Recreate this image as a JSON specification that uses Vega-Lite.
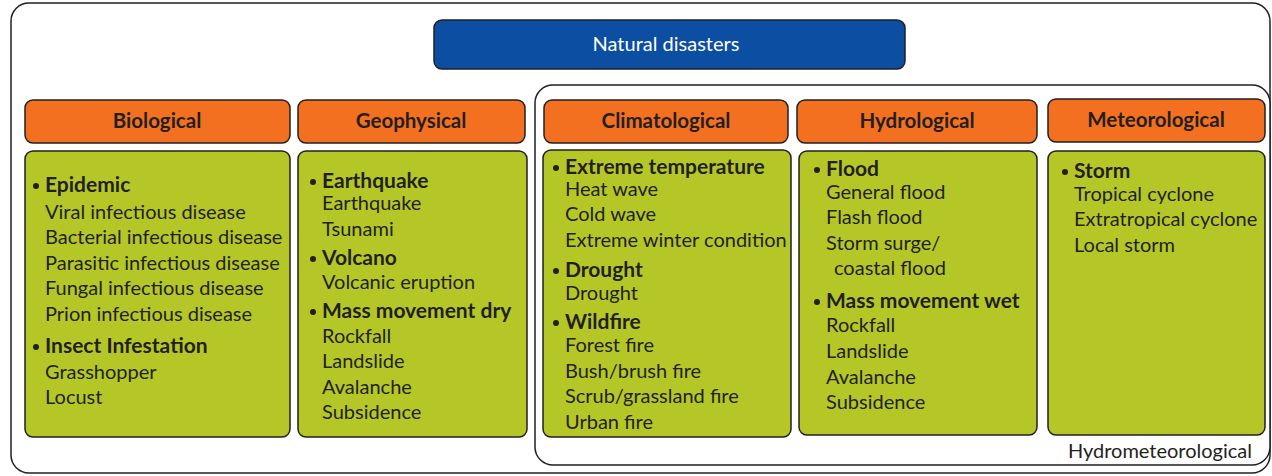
{
  "$schema": "https://vega.github.io/schema/vega-lite/v6.json",
  "width": 1272,
  "height": 476,
  "autosize": {"type": "fit", "contains": "padding"},
  "padding": 0,
  "background": "white",
  "config": {"view": {"stroke": null}},
  "datasets": {
    "boxes": [
      {"name": "outer", "kind": "frame", "x": 11, "x2": 1270, "y": 3, "y2": 473},
      {"name": "hydro", "kind": "frame", "x": 535, "x2": 1270, "y": 85, "y2": 465},
      {"name": "Natural disasters", "kind": "title", "x": 434, "x2": 905, "y": 20, "y2": 69},
      {"name": "Biological", "kind": "header", "x": 25, "x2": 290, "y": 100, "y2": 143},
      {"name": "Geophysical", "kind": "header", "x": 298, "x2": 525, "y": 100, "y2": 143},
      {"name": "Climatological", "kind": "header", "x": 544, "x2": 788, "y": 100, "y2": 143},
      {"name": "Hydrological", "kind": "header", "x": 797, "x2": 1037, "y": 100, "y2": 143},
      {"name": "Meteorological", "kind": "header", "x": 1048, "x2": 1265, "y": 99, "y2": 142},
      {"name": "Biological body", "kind": "body", "x": 25, "x2": 290, "y": 151, "y2": 437},
      {"name": "Geophysical body", "kind": "body", "x": 298, "x2": 527, "y": 151, "y2": 437},
      {"name": "Climatological body", "kind": "body", "x": 543, "x2": 791, "y": 150, "y2": 437},
      {"name": "Hydrological body", "kind": "body", "x": 799, "x2": 1037, "y": 151, "y2": 435},
      {"name": "Meteorological body", "kind": "body", "x": 1048, "x2": 1265, "y": 151, "y2": 435}
    ],
    "labels": [
      {"label": "Natural disasters", "kind": "title", "x": 666, "y": 44},
      {"label": "Biological", "kind": "header", "x": 157, "y": 121},
      {"label": "Geophysical", "kind": "header", "x": 411, "y": 121},
      {"label": "Climatological", "kind": "header", "x": 666, "y": 121},
      {"label": "Hydrological", "kind": "header", "x": 917, "y": 121},
      {"label": "Meteorological", "kind": "header", "x": 1156, "y": 120},
      {"label": "Hydrometeorological", "kind": "note", "x": 1252, "y": 451},

      {"label": "Epidemic", "kind": "group", "x": 45, "y": 185},
      {"label": "Viral infectious disease", "kind": "item", "x": 45, "y": 212},
      {"label": "Bacterial infectious disease", "kind": "item", "x": 45, "y": 237},
      {"label": "Parasitic infectious disease", "kind": "item", "x": 45, "y": 263},
      {"label": "Fungal infectious disease", "kind": "item", "x": 45, "y": 288},
      {"label": "Prion infectious disease", "kind": "item", "x": 45, "y": 314},
      {"label": "Insect Infestation", "kind": "group", "x": 45, "y": 346},
      {"label": "Grasshopper", "kind": "item", "x": 45, "y": 372},
      {"label": "Locust", "kind": "item", "x": 45, "y": 397},

      {"label": "Earthquake", "kind": "group", "x": 322, "y": 181},
      {"label": "Earthquake", "kind": "item", "x": 322, "y": 203},
      {"label": "Tsunami", "kind": "item", "x": 322, "y": 229},
      {"label": "Volcano", "kind": "group", "x": 322, "y": 258},
      {"label": "Volcanic eruption", "kind": "item", "x": 322, "y": 282},
      {"label": "Mass movement dry", "kind": "group", "x": 322, "y": 311},
      {"label": "Rockfall", "kind": "item", "x": 322, "y": 336},
      {"label": "Landslide", "kind": "item", "x": 322, "y": 361},
      {"label": "Avalanche", "kind": "item", "x": 322, "y": 387},
      {"label": "Subsidence", "kind": "item", "x": 322, "y": 412},

      {"label": "Extreme temperature", "kind": "group", "x": 565, "y": 167},
      {"label": "Heat wave", "kind": "item", "x": 565, "y": 189},
      {"label": "Cold wave", "kind": "item", "x": 565, "y": 214},
      {"label": "Extreme winter condition", "kind": "item", "x": 565, "y": 240},
      {"label": "Drought", "kind": "group", "x": 565, "y": 270},
      {"label": "Drought", "kind": "item", "x": 565, "y": 293},
      {"label": "Wildfire", "kind": "group", "x": 565, "y": 322},
      {"label": "Forest fire", "kind": "item", "x": 565, "y": 345},
      {"label": "Bush/brush fire", "kind": "item", "x": 565, "y": 371},
      {"label": "Scrub/grassland fire", "kind": "item", "x": 565, "y": 396},
      {"label": "Urban fire", "kind": "item", "x": 565, "y": 422},

      {"label": "Flood", "kind": "group", "x": 826, "y": 169},
      {"label": "General flood", "kind": "item", "x": 826, "y": 192},
      {"label": "Flash flood", "kind": "item", "x": 826, "y": 217},
      {"label": "Storm surge/", "kind": "item", "x": 826, "y": 243},
      {"label": "coastal flood", "kind": "item", "x": 834, "y": 268},
      {"label": "Mass movement wet", "kind": "group", "x": 826, "y": 301},
      {"label": "Rockfall", "kind": "item", "x": 826, "y": 325},
      {"label": "Landslide", "kind": "item", "x": 826, "y": 351},
      {"label": "Avalanche", "kind": "item", "x": 826, "y": 377},
      {"label": "Subsidence", "kind": "item", "x": 826, "y": 402},

      {"label": "Storm", "kind": "group", "x": 1074, "y": 171},
      {"label": "Tropical cyclone", "kind": "item", "x": 1074, "y": 194},
      {"label": "Extratropical cyclone", "kind": "item", "x": 1074, "y": 219},
      {"label": "Local storm", "kind": "item", "x": 1074, "y": 245}
    ]
  },
  "layer": [
    {
      "data": {"name": "boxes"},
      "transform": [{"filter": "datum.kind === 'frame'"}],
      "mark": {"type": "rect", "cornerRadius": 18, "stroke": "#231f20", "strokeWidth": 1.5, "fill": "#ffffff"},
      "encoding": {
        "x": {"field": "x", "type": "quantitative", "scale": {"domain": [0, 1272], "nice": false, "zero": false}, "axis": null},
        "x2": {"field": "x2"},
        "y": {"field": "y", "type": "quantitative", "scale": {"domain": [0, 476], "nice": false, "zero": false, "reverse": true}, "axis": null},
        "y2": {"field": "y2"}
      }
    },
    {
      "data": {"name": "boxes"},
      "transform": [{"filter": "datum.kind !== 'frame'"}],
      "mark": {"type": "rect", "cornerRadius": 8, "stroke": "#231f20", "strokeWidth": 1.5},
      "encoding": {
        "x": {"field": "x", "type": "quantitative"},
        "x2": {"field": "x2"},
        "y": {"field": "y", "type": "quantitative"},
        "y2": {"field": "y2"},
        "fill": {"field": "kind", "type": "nominal", "legend": null,
          "scale": {"domain": ["title", "header", "body"], "range": ["#0b4ea2", "#f37021", "#b5c727"]}}
      }
    },
    {
      "data": {"name": "labels"},
      "transform": [{"filter": "datum.kind === 'title'"}],
      "mark": {"type": "text", "font": "Lato", "fontSize": 20, "color": "#ffffff", "align": "center", "baseline": "middle", "dy": 1},
      "encoding": {
        "x": {"field": "x", "type": "quantitative"},
        "y": {"field": "y", "type": "quantitative"},
        "text": {"field": "label"}
      }
    },
    {
      "data": {"name": "labels"},
      "transform": [{"filter": "datum.kind === 'header'"}],
      "mark": {"type": "text", "font": "Lato", "fontSize": 20.5, "fontWeight": "bold", "color": "#231f20", "align": "center", "baseline": "middle", "dy": 1},
      "encoding": {
        "x": {"field": "x", "type": "quantitative"},
        "y": {"field": "y", "type": "quantitative"},
        "text": {"field": "label"}
      }
    },
    {
      "data": {"name": "labels"},
      "transform": [{"filter": "datum.kind === 'group'"}],
      "mark": {"type": "circle", "size": 36, "color": "#231f20", "opacity": 1, "xOffset": -9, "yOffset": 1},
      "encoding": {
        "x": {"field": "x", "type": "quantitative"},
        "y": {"field": "y", "type": "quantitative"}
      }
    },
    {
      "data": {"name": "labels"},
      "transform": [{"filter": "datum.kind === 'group'"}],
      "mark": {"type": "text", "font": "Lato", "fontSize": 21, "fontWeight": "bold", "color": "#231f20", "align": "left", "baseline": "middle", "dy": 1},
      "encoding": {
        "x": {"field": "x", "type": "quantitative"},
        "y": {"field": "y", "type": "quantitative"},
        "text": {"field": "label"}
      }
    },
    {
      "data": {"name": "labels"},
      "transform": [{"filter": "datum.kind === 'item'"}],
      "mark": {"type": "text", "font": "Lato", "fontSize": 20, "color": "#231f20", "align": "left", "baseline": "middle", "dy": 1},
      "encoding": {
        "x": {"field": "x", "type": "quantitative"},
        "y": {"field": "y", "type": "quantitative"},
        "text": {"field": "label"}
      }
    },
    {
      "data": {"name": "labels"},
      "transform": [{"filter": "datum.kind === 'note'"}],
      "mark": {"type": "text", "font": "Lato", "fontSize": 20, "color": "#231f20", "align": "right", "baseline": "middle", "dy": 1},
      "encoding": {
        "x": {"field": "x", "type": "quantitative"},
        "y": {"field": "y", "type": "quantitative"},
        "text": {"field": "label"}
      }
    }
  ]
}
